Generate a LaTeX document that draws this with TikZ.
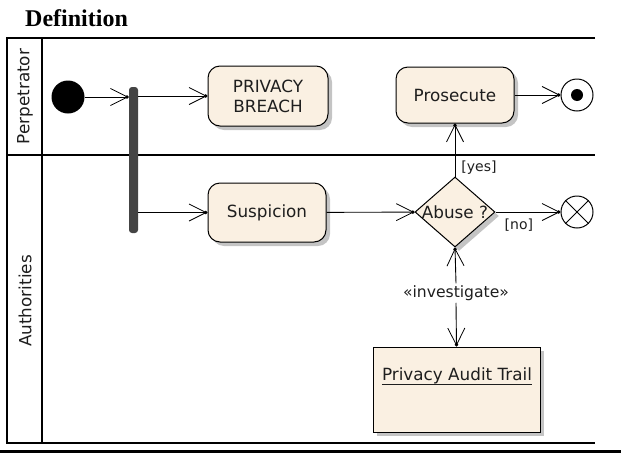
\documentclass[tikz,border=0pt]{standalone}
\usepackage{fontspec}
\setmainfont{Liberation Serif}
\newfontfamily\umlfont{DejaVu Sans}
\usetikzlibrary{arrows.meta,shapes.geometric,shadows}

\definecolor{actfill}{RGB}{250,240,226}
\definecolor{shadowgray}{RGB}{196,196,196}
\definecolor{forkgray}{RGB}{68,68,68}
\definecolor{inkgray}{RGB}{30,30,30}

\begin{document}
\begin{tikzpicture}[x=1pt,y=-1pt,
  umltext/.style={font=\umlfont\fontsize{16.8}{19}\selectfont,text=inkgray},
  lbltext/.style={font=\umlfont\fontsize{14}{16}\selectfont,text=inkgray,inner sep=1pt},
  shade/.style={drop shadow={shadow xshift=4pt,shadow yshift=-4pt,fill=shadowgray,opacity=1}},
  action/.style={umltext,draw,line width=1pt,fill=actfill,rounded corners=12pt,shade,
    inner sep=0pt,align=center},
  decision/.style={diamond,draw,line width=1pt,fill=actfill,shade,inner sep=0pt,
    minimum width=80pt,minimum height=70pt},
  objbox/.style={draw,line width=1pt,fill=actfill,shade,inner sep=0pt},
  flow/.style={line width=0.9pt,
    -{Straight Barb[length=17pt,width=17pt,line width=0.8pt,sep=-3pt]Circle[length=3.5pt]}},
  lane/.style={line width=1.3pt},
]
\useasboundingbox (0,0) rectangle (621,453);

% title
\node[anchor=base west,inner sep=0pt,font=\bfseries\fontsize{24}{26}\selectfont] (title) at (25,26) {Definition};

% swimlane frame
\draw[lane] (595,38) -- (7,38) -- (7,443) -- (595,443);
\draw[lane] (42,38) -- (42,443);
\draw[lane] (7,155) -- (595,155);
\draw[line width=3.6pt] (0,451.5) -- (621,451.5);

\node[umltext,rotate=90] (laneP) at (25,96.5) {Perpetrator};
\node[umltext,rotate=90] (laneA) at (25,301) {Authorities};

% nodes
\node[circle,fill=black,minimum size=33pt,inner sep=0pt] (init) at (68,97) {};
\node[rectangle,fill=forkgray,rounded corners=3pt,minimum width=9pt,minimum height=146pt,inner sep=0pt] (fork) at (133.5,160) {};

\node[action,minimum width=120pt,minimum height=60pt] (breach) at (268,96) {PRIVACY\\[1pt]BREACH};
\node[action,minimum width=118pt,minimum height=59pt] (susp) at (267,212.5) {Suspicion};
\node[action,minimum width=118pt,minimum height=56pt] (pros) at (455,95) {Prosecute};
\node[decision,label={[umltext]center:Abuse ?}] (dec) at (455,212) {};

\node[circle,draw,line width=1pt,fill=white,minimum size=32pt,inner sep=0pt] (final) at (577,95) {};
\node[circle,fill=black,minimum size=12pt,inner sep=0pt] (finaldot) at (final.center) {};

\node[circle,draw,line width=1pt,fill=white,minimum size=32pt,inner sep=0pt] (ff) at (577,212) {};
\draw[line width=1pt] (ff.north west) -- (ff.south east);
\draw[line width=1pt] (ff.north east) -- (ff.south west);

\node[objbox,minimum width=167pt,minimum height=85pt] (trail) at (456.5,389.5) {};
\node[umltext,anchor=base,inner sep=0pt] (trailname) at (457,380) {Privacy Audit Trail};
\draw[line width=1pt,inkgray] ([yshift=-4pt]trailname.base west) -- ([yshift=-4pt]trailname.base east);

\node[umltext,font=\umlfont\fontsize{15.6}{18}\selectfont,inner sep=2pt] (inv) at (456,293) {«investigate»};

% connectors
\draw[flow] (init) -- (init -| fork.west);
\draw[flow] (fork.east |- breach) -- (breach);
\draw[flow] (fork.east |- susp) -- (susp);
\draw[flow] (susp) -- (dec);
\draw[flow] (dec.north) -- node[lbltext,pos=0.17,right=5pt]{[yes]} (pros.south);
\draw[flow] (pros) -- (final);
\draw[flow] (dec.east) -- node[lbltext,pos=0.36,below=5pt]{[no]} (ff);
\draw[flow] (inv.north) -- (dec.south);
\draw[flow] (inv.south) -- (trail.north);
\end{tikzpicture}
\end{document}
